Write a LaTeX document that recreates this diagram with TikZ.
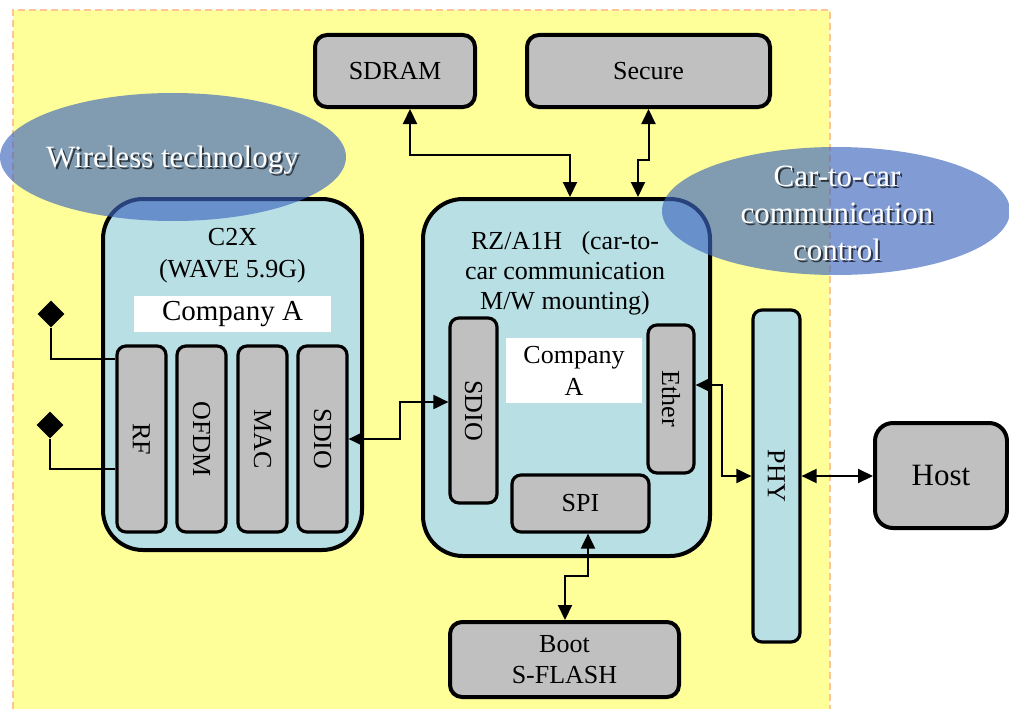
\documentclass[tikz,border=0pt]{standalone}
\usepackage{fontspec}
\setmainfont{Liberation Serif}
\usetikzlibrary{arrows.meta,calc,shapes.geometric}
\definecolor{bgyellow}{RGB}{255,255,153}
\definecolor{bordorange}{RGB}{255,196,150}
\definecolor{lblue}{RGB}{184,223,228}
\definecolor{bgray}{RGB}{192,192,192}
\definecolor{ellblue}{RGB}{62,102,190}
\newcommand\fsz[2]{\fontsize{#1}{#2}\selectfont}
\begin{document}
\begin{tikzpicture}[x=1pt,y=-1pt,
  graybox/.style={draw, line width=4pt, rounded corners=12pt, fill=bgray, inner sep=0pt, align=center, font=\fsz{26}{31}},
  bigbox/.style={draw, line width=4pt, rounded corners=40pt, fill=lblue, inner sep=0pt},
  bar/.style={draw, line width=3.2pt, rounded corners=9pt, fill=bgray, inner sep=0pt},
  bartext/.style={rotate=-90, font=\fsz{26}{31}},
  whitebox/.style={fill=white, inner sep=0pt, align=center},
  biarrow/.style={line width=2pt, {Triangle[length=15pt,width=14pt]}-{Triangle[length=15pt,width=14pt]}},
  ell/.style={ellipse, fill=ellblue, fill opacity=0.65, inner sep=0pt},
  shadowtxt/.style={text=black, text opacity=0.65, align=center, font=\fsz{31}{37}},
  whitetxt/.style={text=white, align=center, font=\fsz{31}{37}}
]
\useasboundingbox (0,0) rectangle (1009,709);
% background
\fill[bgyellow] (13,10) rectangle (830,709);
\draw[bordorange, line width=1.5pt, dash pattern=on 7pt off 4pt] (13,709) -- (13,10) -- (830,10) -- (830,709);

% top boxes
\node[graybox, minimum width=160pt, minimum height=72pt] (sdram) at (395,71) {SDRAM};
\node[graybox, minimum width=243pt, minimum height=72pt] (secure) at (648.5,71) {Secure};

% C2X block
\node[bigbox, minimum width=259pt, minimum height=351pt] (c2x) at (232.5,374.5) {};
\node[align=center, font=\fsz{26}{32}] (c2xt) at (232.5,256) {C2X\\(WAVE 5.9G)};
\node[whitebox, minimum width=197pt, minimum height=36pt, font=\fsz{29}{33}] (compa) at (232.5,314) {Company A};
\node[bar, minimum width=49pt, minimum height=186pt] (rf) at (141.5,439) {};
\node[bartext] at (rf.center) {RF};
\node[bar, minimum width=49pt, minimum height=186pt] (ofdm) at (201.5,439) {};
\node[bartext] at (ofdm.center) {OFDM};
\node[bar, minimum width=49pt, minimum height=186pt] (mac) at (262.5,439) {};
\node[bartext] at (mac.center) {MAC};
\node[bar, minimum width=49pt, minimum height=186pt] (sdio1) at (322.5,439) {};
\node[bartext] at (sdio1.center) {SDIO};

% antennas
\node[diamond, fill=black, minimum size=27pt, inner sep=0pt] (ant1) at (51,314) {};
\node[diamond, fill=black, minimum size=27pt, inner sep=0pt] (ant2) at (50,425) {};
\draw[line width=2pt] (ant1.south) |- (rf.west |- 0,359);
\draw[line width=2pt] (ant2.south) |- (rf.west |- 0,469);

% RZ block
\node[bigbox, minimum width=287pt, minimum height=357pt] (rz) at (566.5,377.5) {};
\node[align=center, font=\fsz{26}{30}] (rzt) at (565,273) {RZ/A1H\ \ \ (car-to-\\car communication\\M/W mounting)};
\node[bar, minimum width=47pt, minimum height=185pt] (sdio2) at (473.5,410.5) {};
\node[bartext] at (sdio2.center) {SDIO};
\node[whitebox, minimum width=136pt, minimum height=65pt, font=\fsz{26}{32}] (compb) at (574,370.5) {Company\\A};
\node[bar, minimum width=46pt, minimum height=148pt] (ether) at (671,399) {};
\node[bartext] at (ether.center) {Ether};
\node[bar, minimum width=137pt, minimum height=57pt] (spi) at (580.5,503.5) {};
\node[font=\fsz{26}{31}] at (spi.center) {SPI};

% PHY, Host, Boot
\node[bar, fill=lblue, minimum width=47pt, minimum height=332pt] (phy) at (776.5,476) {};
\node[bartext] at (phy.center) {PHY};
\node[graybox, rounded corners=18pt, minimum width=132pt, minimum height=105pt, font=\fsz{31}{36}] (host) at (941,475.5) {Host};
\node[graybox, minimum width=229pt, minimum height=75pt] (boot) at (564.5,659.5) {Boot\\S-FLASH};

% connectors
\draw[biarrow] (sdio1.east) -- ++(51,0) |- (sdio2.west |- 0,402);
\draw[biarrow] ($(sdram.south)+(15,0)$) |- (570,155) -- (rz.north -| 570,0);
\draw[biarrow] (secure.south) -- (secure.south |- 0,160) -| (rz.north -| 638,0);
\draw[biarrow] (ether.east |- 0,385) -- (722,385) |- (phy.west);
\draw[biarrow] (phy.east) -- (host.west |- phy.east);
\draw[biarrow] (spi.south -| 588,0) |- (565,576) -- (boot.north -| 565,0);

% ellipses
\node[ell, minimum width=346pt, minimum height=128pt] (wl) at (173,157) {};
\node[shadowtxt] at (174.5,162.5) {Wireless technology};
\node[whitetxt] (wlt) at (172.5,160.5) {Wireless technology};
\node[ell, minimum width=348pt, minimum height=128pt] (cc) at (836,211) {};
\node[shadowtxt] at (839,215) {Car-to-car\\communication\\control};
\node[whitetxt] (cct) at (837,213) {Car-to-car\\communication\\control};
\end{tikzpicture}
\end{document}
